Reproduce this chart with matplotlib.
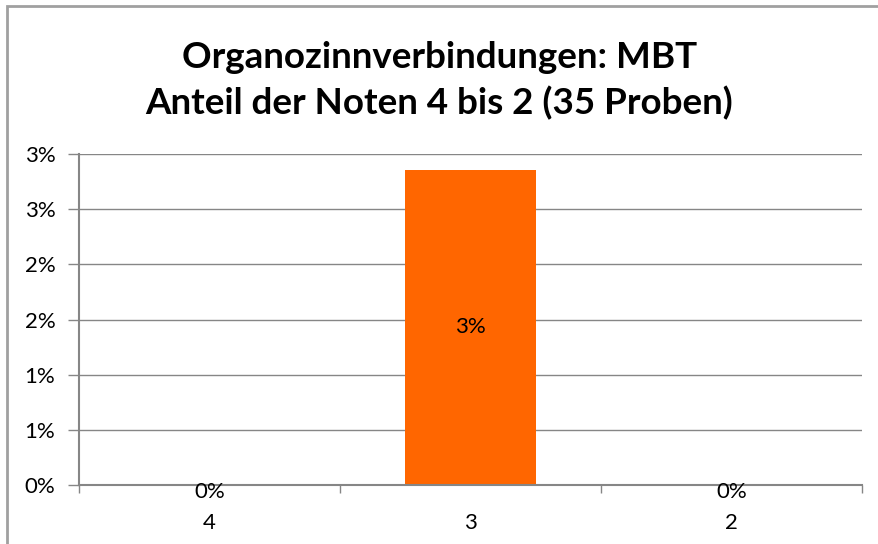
import matplotlib.pyplot as plt
from matplotlib.patches import Rectangle

plt.rcParams['font.family'] = ['Lato', 'DejaVu Sans']

noten = ['4', '3', '2']
anteil = [0.0, 1 / 35, 0.0]
y_ticks = [0.0, 0.005, 0.01, 0.015, 0.02, 0.025, 0.03]
y_labels = ['0%', '1%', '1%', '2%', '2%', '3%', '3%']

grey = '#868686'

fig = plt.figure(figsize=(8.79, 5.44), dpi=100)
ax = fig.add_axes([79 / 879, 59 / 544, 783 / 879, 331 / 544])

x = range(len(noten))
ax.bar(x, anteil, width=0.505, color='#ff6600', zorder=3)

ax.set_xlim(-0.5, 2.5)
ax.set_ylim(0, 0.03)
ax.set_yticks(y_ticks)
ax.set_yticklabels(y_labels, fontsize=16)
ax.set_xticks(list(x))
ax.set_xticklabels(noten, fontsize=16)
ax.set_xticks([-0.5, 0.5, 1.5, 2.5], minor=True)
ax.tick_params(axis='x', which='major', length=0, pad=20)
ax.tick_params(axis='x', which='minor', length=6, color=grey, width=1)
ax.tick_params(axis='y', length=8, color=grey, width=1, pad=9)
ax.grid(axis='y', color=grey, linewidth=1, zorder=0)

for s in ['top', 'right']:
    ax.spines[s].set_visible(False)
for s in ['left', 'bottom']:
    ax.spines[s].set_color(grey)
    ax.spines[s].set_linewidth(1.5)
    ax.spines[s].set_zorder(4)

# Datenbeschriftungen: in der Mitte des Balkens, bei 0 knapp unter der Achse
for i, v in enumerate(anteil):
    txt = f'{v:.0%}'
    if v > 0:
        ax.text(i, v / 2, txt, ha='center', va='center', fontsize=16, zorder=5)
    else:
        ax.annotate(txt, (i, 0), xytext=(0, -5), textcoords='offset points',
                    ha='center', va='center', fontsize=16, zorder=5)

fig.text(0.5, 1 - 57 / 544, 'Organozinnverbindungen: MBT', ha='center', va='center',
         fontsize=26.5, fontweight='bold')
fig.text(0.5, 1 - 103 / 544, 'Anteil der Noten 4 bis 2 (35 Proben)', ha='center',
         va='center', fontsize=26.5, fontweight='bold')

fig.patches.append(Rectangle((7 / 879, -0.1), 1.2, 1 - 6 / 544 + 0.1,
                             transform=fig.transFigure, fill=False,
                             edgecolor='#a0a0a0', linewidth=2))

fig.savefig('out.png', dpi=100)
